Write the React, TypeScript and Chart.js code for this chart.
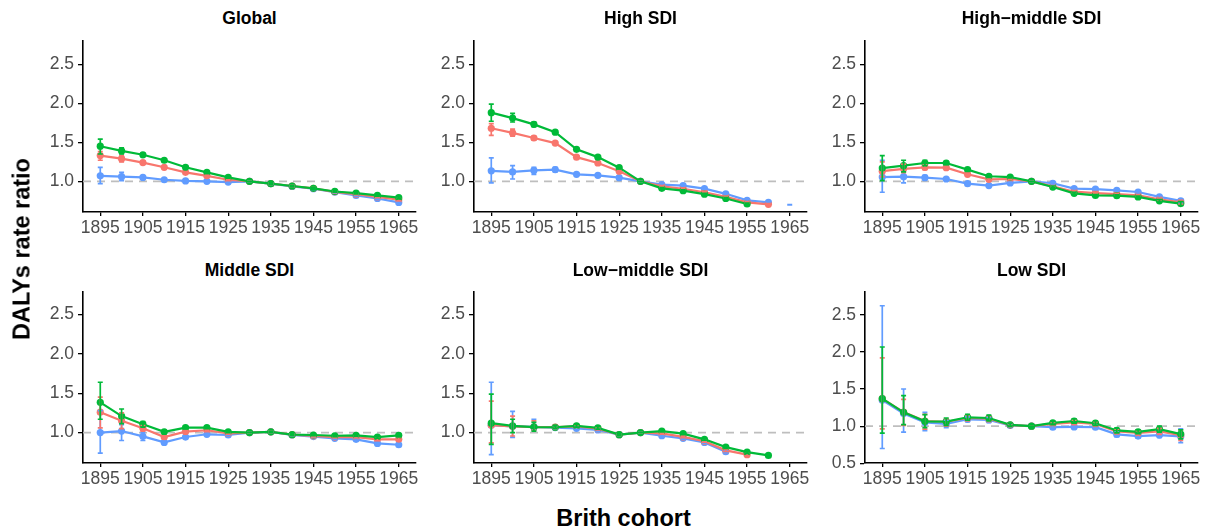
import React, { useEffect, useRef } from "react";
import { Chart, registerables } from "chart.js";
Chart.register(...registerables);

const years = [1895, 1900, 1905, 1910, 1915, 1920, 1925, 1930, 1935, 1940, 1945, 1950, 1955, 1960, 1965];
const xTicks = [1895, 1905, 1915, 1925, 1935, 1945, 1955, 1965];
const yTicksMain = [1.0, 1.5, 2.0, 2.5];
const yTicksLow = [0.5, 1.0, 1.5, 2.0, 2.5];
const panelTitles = ["Global", "High SDI", "High\u2212middle SDI", "Middle SDI", "Low\u2212middle SDI", "Low SDI"];

// Global
const globalRed = [1.33, 1.29, 1.24, 1.18, 1.115, 1.07, 1.02, 1.0, 0.97, 0.94, 0.91, 0.865, 0.835, 0.8, 0.765];
const globalRedLo = [1.27, 1.25, 1.22, 1.165, 1.105, 1.06, 1.01, 1.0, 0.96, 0.93, 0.9, 0.855, 0.825, 0.79, 0.75];
const globalRedHi = [1.38, 1.33, 1.26, 1.195, 1.125, 1.08, 1.03, 1.0, 0.98, 0.95, 0.92, 0.875, 0.845, 0.81, 0.78];
const globalGreen = [1.45, 1.39, 1.34, 1.27, 1.18, 1.115, 1.05, 1.0, 0.97, 0.94, 0.91, 0.87, 0.85, 0.82, 0.79];
const globalGreenLo = [1.35, 1.35, 1.32, 1.255, 1.17, 1.1, 1.04, 1.0, 0.96, 0.93, 0.9, 0.86, 0.84, 0.81, 0.775];
const globalGreenHi = [1.54, 1.43, 1.36, 1.285, 1.19, 1.13, 1.06, 1.0, 0.98, 0.95, 0.92, 0.88, 0.86, 0.83, 0.805];
const globalBlue = [1.07, 1.06, 1.05, 1.02, 1.005, 1.0, 0.99, 1.0, 0.97, 0.935, 0.905, 0.86, 0.82, 0.78, 0.73];
const globalBlueLo = [0.97, 1.01, 1.03, 1.01, 0.995, 0.99, 0.98, 1.0, 0.96, 0.925, 0.895, 0.85, 0.81, 0.77, 0.72];
const globalBlueHi = [1.18, 1.115, 1.07, 1.03, 1.015, 1.01, 1.0, 1.0, 0.98, 0.945, 0.915, 0.87, 0.83, 0.79, 0.74];

// High SDI
const highRed = [1.68, 1.62, 1.555, 1.49, 1.31, 1.235, 1.13, 1.0, 0.935, 0.905, 0.86, 0.8, 0.73, 0.705, null];
const highRedLo = [1.59, 1.58, 1.53, 1.47, 1.29, 1.22, 1.12, 1.0, 0.925, 0.895, 0.85, 0.79, 0.72, 0.695, null];
const highRedHi = [1.74, 1.67, 1.58, 1.51, 1.33, 1.25, 1.14, 1.0, 0.945, 0.915, 0.87, 0.81, 0.74, 0.715, null];
const highGreen = [1.88, 1.81, 1.73, 1.63, 1.41, 1.31, 1.175, 1.0, 0.91, 0.88, 0.835, 0.78, 0.71, null, null];
const highGreenLo = [1.77, 1.76, 1.7, 1.61, 1.39, 1.29, 1.16, 1.0, 0.9, 0.87, 0.825, 0.77, 0.7, null, null];
const highGreenHi = [1.99, 1.87, 1.76, 1.65, 1.43, 1.33, 1.19, 1.0, 0.92, 0.89, 0.845, 0.79, 0.72, null, null];
const highBlue = [1.135, 1.12, 1.14, 1.15, 1.09, 1.077, 1.047, 1.0, 0.957, 0.945, 0.906, 0.84, 0.757, 0.73, null];
const highBlueLo = [0.98, 1.03, 1.09, 1.12, 1.07, 1.06, 1.03, 1.0, 0.945, 0.935, 0.895, 0.83, 0.745, 0.72, 0.697];
const highBlueHi = [1.3, 1.2, 1.18, 1.18, 1.11, 1.09, 1.06, 1.0, 0.97, 0.955, 0.915, 0.85, 0.77, 0.74, 0.703];

// High-middle SDI
const hmRed = [1.13, 1.16, 1.18, 1.175, 1.09, 1.026, 1.03, 1.0, 0.936, 0.867, 0.85, 0.837, 0.82, 0.77, 0.73];
const hmRedLo = [1.06, 1.11, 1.15, 1.155, 1.075, 1.015, 1.02, 1.0, 0.925, 0.855, 0.84, 0.827, 0.81, 0.755, 0.705];
const hmRedHi = [1.25, 1.22, 1.21, 1.195, 1.105, 1.04, 1.04, 1.0, 0.945, 0.88, 0.86, 0.847, 0.83, 0.785, 0.755];
const hmGreen = [1.17, 1.2, 1.235, 1.235, 1.15, 1.065, 1.055, 1.0, 0.927, 0.846, 0.82, 0.816, 0.8, 0.75, 0.715];
const hmGreenLo = [1.01, 1.12, 1.2, 1.215, 1.135, 1.05, 1.045, 1.0, 0.915, 0.835, 0.81, 0.805, 0.79, 0.735, 0.69];
const hmGreenHi = [1.33, 1.27, 1.27, 1.255, 1.165, 1.08, 1.065, 1.0, 0.94, 0.86, 0.83, 0.827, 0.81, 0.765, 0.74];
const hmBlue = [1.055, 1.06, 1.047, 1.03, 0.97, 0.945, 0.98, 1.0, 0.975, 0.906, 0.9, 0.885, 0.863, 0.8, 0.75];
const hmBlueLo = [0.86, 0.98, 1.02, 1.015, 0.96, 0.935, 0.97, 1.0, 0.965, 0.895, 0.89, 0.875, 0.85, 0.785, 0.725];
const hmBlueHi = [1.27, 1.12, 1.075, 1.045, 0.98, 0.955, 0.99, 1.0, 0.985, 0.917, 0.91, 0.895, 0.875, 0.815, 0.775];

// Middle SDI
const midRed = [1.26, 1.15, 1.055, 0.944, 1.013, 1.03, 0.99, 1.0, 1.01, 0.974, 0.957, 0.944, 0.944, 0.915, 0.915];
const midRedLo = [1.06, 1.05, 1.02, 0.93, 1.0, 1.02, 0.98, 1.0, 1.0, 0.965, 0.947, 0.934, 0.932, 0.9, 0.895];
const midRedHi = [1.45, 1.25, 1.09, 0.96, 1.025, 1.04, 1.0, 1.0, 1.02, 0.984, 0.967, 0.954, 0.956, 0.93, 0.935];
const midGreen = [1.385, 1.21, 1.107, 1.01, 1.064, 1.064, 1.01, 1.0, 1.01, 0.974, 0.97, 0.96, 0.966, 0.944, 0.966];
const midGreenLo = [1.17, 1.115, 1.07, 0.995, 1.05, 1.05, 1.0, 1.0, 1.0, 0.965, 0.96, 0.95, 0.955, 0.93, 0.945];
const midGreenHi = [1.64, 1.3, 1.14, 1.025, 1.078, 1.078, 1.02, 1.0, 1.02, 0.984, 0.98, 0.97, 0.977, 0.958, 0.987];
const midBlue = [1.0, 1.02, 0.953, 0.876, 0.944, 0.979, 0.97, 1.0, 1.01, 0.97, 0.95, 0.927, 0.915, 0.863, 0.846];
const midBlueLo = [0.74, 0.9, 0.9, 0.86, 0.93, 0.968, 0.96, 1.0, 1.0, 0.96, 0.94, 0.917, 0.903, 0.85, 0.83];
const midBlueHi = [1.28, 1.1, 1.0, 0.892, 0.958, 0.99, 0.98, 1.0, 1.02, 0.98, 0.96, 0.937, 0.927, 0.876, 0.862];

// Low-middle SDI
const lmRed = [1.094, 1.08, 1.07, 1.07, 1.08, 1.05, 0.974, 1.0, 0.99, 0.945, 0.89, 0.775, 0.72, null, null];
const lmRedLo = [0.87, 0.957, 1.03, 1.05, 1.065, 1.035, 0.964, 1.0, 0.98, 0.935, 0.878, 0.76, 0.705, null, null];
const lmRedHi = [1.4, 1.21, 1.15, 1.09, 1.095, 1.065, 0.984, 1.0, 1.0, 0.955, 0.902, 0.79, 0.735, null, null];
const lmGreen = [1.12, 1.085, 1.07, 1.068, 1.085, 1.06, 0.974, 1.0, 1.02, 0.987, 0.915, 0.816, 0.752, 0.71, null];
const lmGreenLo = [0.85, 1.0, 1.02, 1.05, 1.07, 1.045, 0.964, 1.0, 1.01, 0.977, 0.903, 0.8, 0.737, 0.695, null];
const lmGreenHi = [1.49, 1.17, 1.13, 1.086, 1.1, 1.075, 0.984, 1.0, 1.03, 0.997, 0.927, 0.832, 0.767, 0.725, null];
const lmBlue = [1.094, 1.08, 1.073, 1.064, 1.055, 1.034, 0.974, 1.0, 0.96, 0.927, 0.876, 0.757, null, null, null];
const lmBlueLo = [0.72, 0.94, 1.03, 1.045, 1.04, 1.02, 0.964, 1.0, 0.95, 0.917, 0.864, 0.742, null, null, null];
const lmBlueHi = [1.64, 1.27, 1.17, 1.083, 1.07, 1.048, 0.984, 1.0, 0.97, 0.937, 0.888, 0.772, null, null, null];

// Low SDI
const lowRed = [1.37, 1.19, 1.07, 1.06, 1.11, 1.1, 1.015, 1.0, 1.03, 1.05, 1.03, 0.93, 0.91, 0.93, 0.88];
const lowRedLo = [0.965, 1.01, 0.96, 1.0, 1.07, 1.06, 0.995, 1.0, 1.01, 1.02, 1.0, 0.9, 0.88, 0.89, 0.81];
const lowRedHi = [1.92, 1.36, 1.16, 1.1, 1.15, 1.14, 1.035, 1.0, 1.05, 1.08, 1.06, 0.96, 0.94, 0.97, 0.95];
const lowGreen = [1.37, 1.186, 1.066, 1.062, 1.12, 1.11, 1.018, 1.0, 1.044, 1.07, 1.04, 0.943, 0.925, 0.96, 0.894];
const lowGreenLo = [0.907, 1.02, 0.98, 1.01, 1.08, 1.07, 0.998, 1.0, 1.02, 1.04, 1.01, 0.91, 0.9, 0.92, 0.83];
const lowGreenHi = [2.065, 1.41, 1.155, 1.11, 1.16, 1.15, 1.038, 1.0, 1.065, 1.1, 1.07, 0.975, 0.95, 1.0, 0.95];
const lowBlue = [1.35, 1.17, 1.05, 1.03, 1.093, 1.084, 1.01, 1.0, 0.987, 0.99, 0.987, 0.89, 0.867, 0.88, 0.863];
const lowBlueLo = [0.7, 0.92, 0.94, 0.98, 1.06, 1.05, 0.99, 1.0, 0.97, 0.97, 0.965, 0.86, 0.84, 0.85, 0.78];
const lowBlueHi = [2.62, 1.5, 1.186, 1.08, 1.125, 1.12, 1.03, 1.0, 1.005, 1.01, 1.01, 0.92, 0.895, 0.91, 0.965];

const RED = "#F8766D";
const GREEN = "#00BA38";
const BLUE = "#619CFF";
const FONT = "'Liberation Sans', Arial, Helvetica, sans-serif";

type Series = { color: string; values: (number | null)[]; lo: (number | null)[]; hi: (number | null)[] };

const panels: { title: string; yMin: number; yMax: number; yTicks: number[]; series: Series[] }[] = [
  {
    title: panelTitles[0], yMin: 0.607, yMax: 2.798, yTicks: yTicksMain,
    series: [
      { color: GREEN, values: globalGreen, lo: globalGreenLo, hi: globalGreenHi },
      { color: RED, values: globalRed, lo: globalRedLo, hi: globalRedHi },
      { color: BLUE, values: globalBlue, lo: globalBlueLo, hi: globalBlueHi },
    ],
  },
  {
    title: panelTitles[1], yMin: 0.607, yMax: 2.798, yTicks: yTicksMain,
    series: [
      { color: GREEN, values: highGreen, lo: highGreenLo, hi: highGreenHi },
      { color: RED, values: highRed, lo: highRedLo, hi: highRedHi },
      { color: BLUE, values: highBlue, lo: highBlueLo, hi: highBlueHi },
    ],
  },
  {
    title: panelTitles[2], yMin: 0.607, yMax: 2.798, yTicks: yTicksMain,
    series: [
      { color: GREEN, values: hmGreen, lo: hmGreenLo, hi: hmGreenHi },
      { color: RED, values: hmRed, lo: hmRedLo, hi: hmRedHi },
      { color: BLUE, values: hmBlue, lo: hmBlueLo, hi: hmBlueHi },
    ],
  },
  {
    title: panelTitles[3], yMin: 0.614, yMax: 2.787, yTicks: yTicksMain,
    series: [
      { color: GREEN, values: midGreen, lo: midGreenLo, hi: midGreenHi },
      { color: RED, values: midRed, lo: midRedLo, hi: midRedHi },
      { color: BLUE, values: midBlue, lo: midBlueLo, hi: midBlueHi },
    ],
  },
  {
    title: panelTitles[4], yMin: 0.614, yMax: 2.787, yTicks: yTicksMain,
    series: [
      { color: GREEN, values: lmGreen, lo: lmGreenLo, hi: lmGreenHi },
      { color: RED, values: lmRed, lo: lmRedLo, hi: lmRedHi },
      { color: BLUE, values: lmBlue, lo: lmBlueLo, hi: lmBlueHi },
    ],
  },
  {
    title: panelTitles[5], yMin: 0.505, yMax: 2.805, yTicks: yTicksLow,
    series: [
      { color: GREEN, values: lowGreen, lo: lowGreenLo, hi: lowGreenHi },
      { color: RED, values: lowRed, lo: lowRedLo, hi: lowRedHi },
      { color: BLUE, values: lowBlue, lo: lowBlueLo, hi: lowBlueHi },
    ],
  },
];

const AXIS_W = 53;
const AXIS_H = 30;
const PAD_TOP = 5;
const PAD_RIGHT = 8;
const PLOT_W = 333;
const PLOT_H = 171;
const colAxisX = [83, 474, 865];
const rowPlotTop = [41, 292];

const refLinePlugin = {
  id: "refLine",
  beforeDatasetsDraw(chart: any) {
    const { ctx, chartArea, scales } = chart;
    const y = scales.y.getPixelForValue(1);
    ctx.save();
    ctx.strokeStyle = "#BEBEBE";
    ctx.lineWidth = 1.8;
    ctx.setLineDash([8, 6]);
    ctx.beginPath();
    ctx.moveTo(chartArea.left, y);
    ctx.lineTo(chartArea.right, y);
    ctx.stroke();
    ctx.restore();
  },
};

const errorBarPlugin = {
  id: "errorBars",
  afterDatasetsDraw(chart: any) {
    const { ctx, scales } = chart;
    const ds = chart.data.datasets;
    ctx.save();
    ctx.setLineDash([]);
    for (let d = ds.length - 1; d >= 0; d--) {
      const set = ds[d];
      ctx.strokeStyle = set.borderColor;
      ctx.lineWidth = 1.7;
      for (let i = 0; i < years.length; i++) {
        const lo = set.errLo[i];
        const hi = set.errHi[i];
        if (lo == null || hi == null) continue;
        const x = scales.x.getPixelForValue(years[i]);
        const yl = scales.y.getPixelForValue(lo);
        const yh = scales.y.getPixelForValue(hi);
        ctx.beginPath();
        ctx.moveTo(x, yl);
        ctx.lineTo(x, yh);
        ctx.moveTo(x - 2.5, yl);
        ctx.lineTo(x + 2.5, yl);
        ctx.moveTo(x - 2.5, yh);
        ctx.lineTo(x + 2.5, yh);
        ctx.stroke();
      }
    }
    ctx.restore();
  },
};

function Panel({ index }: { index: number }) {
  const ref = useRef<HTMLCanvasElement | null>(null);
  const p = panels[index];
  const col = index % 3;
  const row = Math.floor(index / 3);
  const left = colAxisX[col] - AXIS_W;
  const top = rowPlotTop[row] - PAD_TOP;
  const width = AXIS_W + PLOT_W + PAD_RIGHT;
  const height = PAD_TOP + PLOT_H + AXIS_H;

  useEffect(() => {
    if (!ref.current) return;
    const chart = new Chart(ref.current, {
      type: "line",
      data: {
        datasets: p.series.map((s) => ({
          data: years.map((x, i) => ({ x, y: s.values[i] })),
          borderColor: s.color,
          backgroundColor: s.color,
          pointBackgroundColor: s.color,
          pointBorderColor: s.color,
          pointRadius: 3.6,
          pointBorderWidth: 0,
          borderWidth: 2.2,
          tension: 0,
          spanGaps: false,
          errLo: s.lo,
          errHi: s.hi,
        })) as any,
      },
      options: {
        animation: false,
        responsive: false,
        maintainAspectRatio: false,
        events: [],
        layout: { padding: { top: PAD_TOP, right: PAD_RIGHT, left: 0, bottom: 0 } },
        plugins: { legend: { display: false }, tooltip: { enabled: false }, title: { display: false } },
        scales: {
          x: {
            type: "linear",
            min: 1890.95,
            max: 1969.05,
            afterBuildTicks: (s: any) => {
              s.ticks = xTicks.map((v) => ({ value: v }));
            },
            afterFit: (s: any) => {
              s.height = AXIS_H;
              s.paddingLeft = 0;
              s.paddingRight = 0;
            },
            grid: { display: true, drawOnChartArea: false, drawTicks: true, tickLength: 4, color: "#000", lineWidth: 1.3 },
            border: { display: true, color: "#000", width: 1.6 },
            ticks: {
              color: "#4D4D4D",
              font: { size: 17.5, family: FONT },
              padding: 2,
              maxRotation: 0,
              autoSkip: false,
              callback: (v: any) => String(v),
            },
          },
          y: {
            type: "linear",
            min: p.yMin,
            max: p.yMax,
            afterBuildTicks: (s: any) => {
              s.ticks = p.yTicks.map((v) => ({ value: v }));
            },
            afterFit: (s: any) => {
              s.width = AXIS_W;
              s.paddingTop = 0;
              s.paddingBottom = 0;
            },
            grid: { display: true, drawOnChartArea: false, drawTicks: true, tickLength: 5, color: "#000", lineWidth: 1.3 },
            border: { display: true, color: "#000", width: 1.6 },
            ticks: {
              color: "#4D4D4D",
              font: { size: 17.5, family: FONT },
              padding: 4,
              autoSkip: false,
              callback: (v: any) => Number(v).toFixed(1),
            },
          },
        },
      } as any,
      plugins: [refLinePlugin, errorBarPlugin],
    });
    return () => chart.destroy();
  }, []);

  return (
    <>
      <canvas
        ref={ref}
        width={width}
        height={height}
        style={{ position: "absolute", left, top, width, height }}
      />
      <div
        style={{
          position: "absolute",
          left: colAxisX[col] + PLOT_W / 2,
          top: row === 0 ? 18 : 270,
          transform: "translate(-50%, -50%)",
          font: `bold 17.5px ${FONT}`,
          color: "#000",
          whiteSpace: "nowrap",
        }}
      >
        {p.title}
      </div>
    </>
  );
}

export default function App() {
  return (
    <div
      style={{
        position: "absolute",
        left: 0,
        top: 0,
        width: 1207,
        height: 531,
        background: "#fff",
        overflow: "hidden",
      }}
    >
      {panels.map((_, i) => (
        <Panel key={i} index={i} />
      ))}
      <div
        style={{
          position: "absolute",
          left: 22,
          top: 249,
          transform: "translate(-50%, -50%) rotate(-90deg)",
          font: `bold 23.5px ${FONT}`,
          color: "#000",
          whiteSpace: "nowrap",
        }}
      >
        DALYs rate ratio
      </div>
      <div
        style={{
          position: "absolute",
          left: 623.5,
          top: 518,
          transform: "translate(-50%, -50%)",
          font: `bold 23.5px ${FONT}`,
          color: "#000",
          whiteSpace: "nowrap",
        }}
      >
        Brith cohort
      </div>
    </div>
  );
}
